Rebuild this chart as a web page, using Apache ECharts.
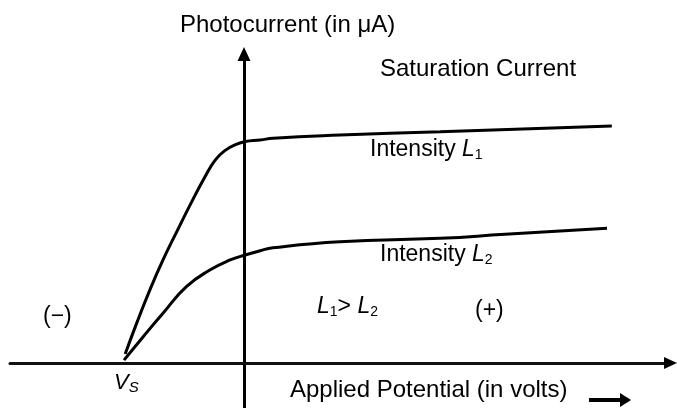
<!DOCTYPE html>
<html>
<head>
<meta charset="utf-8">
<script src="https://cdn.jsdelivr.net/npm/echarts@6/dist/echarts.min.js"></script>
<style>
  html, body { margin: 0; padding: 0; background: #fff; }
  #chart { width: 677px; height: 408px; }
</style>
</head>
<body>
<div id="chart"></div>
<script>
// Applied potential (arbitrary volt units, stopping potential Vs = -2)
var potentialL1 = [-1.98, -1.79, -1.57, -1.35, -1.12, -0.87, -0.65, -0.48, -0.32, -0.12, 0.02, 0.27, 0.49, 1.6, 3.27, 4.52, 6.13];
var currentL1   = [0.40, 1.76, 3.24, 4.58, 5.84, 7.17, 8.28, 9.02, 9.44, 9.73, 9.84, 9.91, 9.99, 10.13, 10.28, 10.39, 10.53];

var potentialL2 = [-2.0, -1.68, -1.35, -0.96, -0.57, -0.23, 0.02, 0.27, 0.48, 1.6, 3.27, 4.35, 6.05];
var currentL2   = [0.13, 1.17, 2.21, 3.39, 4.13, 4.58, 4.80, 4.99, 5.12, 5.39, 5.54, 5.72, 5.99];

var axisNames = ['Applied Potential (in volts)', 'Photocurrent (in \u03bcA)'];

function pairs(xs, ys) {
  return xs.map(function (x, i) { return [x, ys[i]]; });
}

var FONT = '"Liberation Sans", Arial, Helvetica, sans-serif';
var ink = '#000';

var chart = echarts.init(document.getElementById('chart'), null, { renderer: 'canvas' });

function txt(x, y, text, size, extra) {
  var style = Object.assign({
    text: text,
    fontFamily: FONT,
    fontSize: size,
    fill: ink,
    textAlign: 'left',
    textVerticalAlign: 'middle'
  }, extra || {});
  return { type: 'text', x: x, y: y, style: style, z: 20 };
}

var sub = function (size) {
  return {
    L: { fontFamily: FONT, fontSize: size, fontStyle: 'italic', fill: ink },
    n: { fontFamily: FONT, fontSize: Math.round(size * 0.62), fill: ink, verticalAlign: 'bottom', padding: [Math.round(size * 0.45), 0, 0, 0] },
    t: { fontFamily: FONT, fontSize: size, fill: ink }
  };
};

var axisOpts = {
  type: 'value',
  axisLine: { onZero: true, lineStyle: { color: ink, width: 3 } },
  axisTick: { show: false },
  axisLabel: { show: false },
  splitLine: { show: false }
};

chart.setOption({
  animation: false,
  backgroundColor: '#fff',
  grid: { left: 10, right: 10, top: 59.25, bottom: 0, containLabel: false },
  xAxis: Object.assign({}, axisOpts, { min: -3.9, max: 7.05,
    axisLine: { onZero: true, lineStyle: { color: '#111', width: 3 } } }),
  yAxis: Object.assign({}, axisOpts, { min: -2, max: 13.5 }),
  series: [
    {
      name: 'Intensity L1',
      type: 'line',
      data: pairs(potentialL1, currentL1),
      smooth: 0.5,
      showSymbol: false,
      lineStyle: { color: ink, width: 3 },
      z: 5
    },
    {
      name: 'Intensity L2',
      type: 'line',
      data: pairs(potentialL2, currentL2),
      smooth: 0.5,
      showSymbol: false,
      lineStyle: { color: ink, width: 3 },
      z: 5
    }
  ],
  graphic: [
    // arrow heads at the ends of both axes
    { type: 'polygon', z: 20, shape: { points: [[244, 47], [250.5, 61], [237.5, 61]] }, style: { fill: ink } },
    { type: 'polygon', z: 20, shape: { points: [[677, 363], [664, 357], [664, 369]] }, style: { fill: ink } },

    txt(180, 25, axisNames[1], 24),
    txt(380, 69, 'Saturation Current', 24),
    txt(370, 150, '{t|Intensity }{L|L}{n|1}', 23, { rich: sub(23) }),
    txt(380, 255, '{t|Intensity }{L|L}{n|2}', 23, { rich: sub(23) }),
    txt(317, 307, '{L|L}{n|1}{t|> }{L|L}{n|2}', 23, { rich: sub(23) }),
    txt(475, 311, '(+)', 23),
    txt(43, 317, '(\u2212)', 23),
    txt(114, 383, '{L|V}{s|S}', 22, { rich: {
      L: { fontFamily: FONT, fontSize: 22, fontStyle: 'italic', fill: ink },
      s: { fontFamily: FONT, fontSize: 15, fontStyle: 'italic', fill: ink, verticalAlign: 'bottom', padding: [10, 0, 0, 0] }
    } }),
    txt(290, 390, axisNames[0], 24),
    {
      type: 'line', z: 20,
      shape: { x1: 589, y1: 400, x2: 622, y2: 400 },
      style: { stroke: ink, lineWidth: 4 }
    },
    {
      type: 'polygon', z: 20,
      shape: { points: [[620, 393], [631, 400], [620, 407]] },
      style: { fill: ink }
    }
  ]
});
</script>
</body>
</html>
